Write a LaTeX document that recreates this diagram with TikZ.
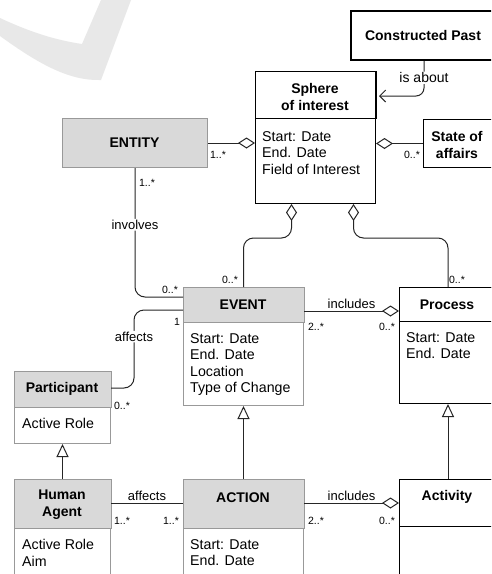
\documentclass[tikz,border=0pt]{standalone}
\usepackage{fontspec}
\setmainfont{Liberation Sans}
\usetikzlibrary{arrows.meta,positioning}

\tikzset{
  box/.style={draw=black, line width=1pt, fill=white, anchor=north west, inner sep=0pt},
  gbox/.style={box, draw=black!40},
  hdr/.style={draw=black!40, fill=black!15, line width=1pt},
  cname/.style={font=\bfseries\fontsize{14}{17}\selectfont, align=center, inner sep=0pt},
  attr/.style={font=\fontsize{14.2}{16.6}\selectfont, align=left, anchor=north west, inner sep=0pt},
  lbl/.style={font=\fontsize{13}{15}\selectfont, inner sep=1pt},
  mult/.style={font=\fontsize{10.5}{12}\selectfont, inner sep=0pt},
  link/.style={draw=black!85, line width=1pt},
  agg/.style={link, -{Diamond[open, length=17pt, width=11pt]}},
  gen/.style={link, -{Triangle[open, length=13pt, width=12pt]}},
}

\begin{document}
\begin{tikzpicture}[x=1pt, y=-1pt]
  \useasboundingbox (0,0) rectangle (491,574);
  \clip (0,0) rectangle (491,574);
  \fill[white] (0,0) rectangle (491,574);
  % faint mark in the corner
  \fill[black!9] (0,18) .. controls (30,32) and (55,40) .. (82,44) -- (101,0)
    -- (131,0) -- (101,80) .. controls (70,81) and (40,65) .. (0,36) -- cycle;

  % classes
  \node[box, line width=2pt, minimum width=146, minimum height=49] (past) at (350,10) {};
  \node[box, minimum width=120, minimum height=132] (sphere) at (255,71) {};
  \node[gbox, fill=black!15, minimum width=145, minimum height=49] (entity) at (62,118) {};
  \node[box, minimum width=70, minimum height=48] (affairs) at (423,119) {};
  \node[gbox, minimum width=120, minimum height=118] (event) at (183,287) {};
  \node[box, minimum width=97, minimum height=116] (process) at (399,287) {};
  \node[gbox, minimum width=96, minimum height=72] (participant) at (14,371) {};
  \node[gbox, minimum width=96, minimum height=120] (human) at (14,479) {};
  \node[gbox, minimum width=120, minimum height=120] (action) at (183,479) {};
  \node[box, minimum width=97, minimum height=120] (activity) at (399,479) {};

  % header compartments
  \draw[line width=1pt] (sphere.north west) rectangle ([yshift=-47pt]sphere.north east);
  \draw[line width=1pt] (process.north west) rectangle ([yshift=-34pt]process.north east);
  \draw[line width=1pt] (activity.north west) rectangle ([yshift=-47pt]activity.north east);
  \filldraw[hdr] (event.north west) rectangle ([yshift=-35pt]event.north east);
  \filldraw[hdr] (participant.north west) rectangle ([yshift=-36pt]participant.north east);
  \filldraw[hdr] (human.north west) rectangle ([yshift=-49pt]human.north east);
  \filldraw[hdr] (action.north west) rectangle ([yshift=-49pt]action.north east);

  % names
  \node[cname] (past-n) at (423,35) {Constructed Past};
  \node[cname] (sphere-n) at (315,96.5) {Sphere\\of interest};
  \node[cname] (entity-n) at (134.5,143) {ENTITY};
  \node[cname] (affairs-n) at (457,144.5) {State of\\affairs};
  \node[cname] (event-n) at (243,304.5) {EVENT};
  \node[cname] (process-n) at (447,304.5) {Process};
  \node[cname] (participant-n) at (62,389) {Participant};
  \node[cname] (human-n) at (62,505) {Human\\Agent};
  \node[cname] (action-n) at (243,497.5) {ACTION};
  \node[cname] (activity-n) at (447,496.5) {Activity};

  % attributes
  \node[attr] (sphere-a) at (262,131) {Start: Date\\End. Date\\Field of Interest};
  \node[attr] (event-a) at (190,333) {Start: Date\\End. Date\\Location\\Type of Change};
  \node[attr] (process-a) at (406,332) {Start: Date\\End. Date};
  \node[attr] (participant-a) at (22,418) {Active Role};
  \node[attr] (human-a) at (22,539) {Active Role\\Aim};
  \node[attr] (action-a) at (190,539) {Start: Date\\End. Date};

  % associations
  \coordinate (aboutend) at (379,96);
  \draw[link, -{Straight Barb[length=6pt, width=12pt]}, rounded corners=8pt]
    (past.south) |- node[lbl, pos=.24, fill=white, font=\fontsize{14}{16}\selectfont] {is about} (aboutend);
  \draw[agg] (entity.east) -- (entity.east -| sphere.west);
  \draw[agg] (affairs.west) -- (affairs.west -| sphere.east);
  \draw[agg, rounded corners=10pt] (event.north) -- (event.north |- 0,238)
    -| ([xshift=-24pt]sphere.south);
  \draw[agg, rounded corners=10pt] (process.north) -- (process.north |- 0,238)
    -| ([xshift=38pt]sphere.south);
  \draw[link, rounded corners=10pt] (entity.south)
    |- node[lbl, pos=.22, fill=white] {involves} ([yshift=-10pt]event.north west);
  \draw[link, rounded corners=10pt] ([yshift=-23pt]event.north west) -- ++(-49,0)
    |- node[lbl, pos=.17, fill=white] {affects} ([yshift=-17pt]participant.north east);
  \draw[agg] ([yshift=-24pt]event.north east)
    -- node[lbl, above=1pt] {includes} ([yshift=-24pt]process.north west);
  \draw[link] ([yshift=-24pt]human.north east)
    -- node[lbl, above=1pt] {affects} ([yshift=-24pt]action.north west);
  \draw[agg] ([yshift=-24pt]action.north east)
    -- node[lbl, above=1pt] {includes} ([yshift=-24pt]activity.north west);

  % generalisations
  \draw[gen] (human.north) -- (participant.south);
  \draw[gen] (action.north) -- (event.south);
  \draw[gen] (activity.north) -- (process.south);

  % multiplicities
  \node[mult] (m1) at (218,155) {1..*};
  \node[mult] (m2) at (412,155) {0..*};
  \node[mult] (m3) at (147,183) {1..*};
  \node[mult] (m4) at (170,290) {0..*};
  \node[mult] (m5) at (230,280) {0..*};
  \node[mult] (m6) at (457,280) {0..*};
  \node[mult] (m7) at (177,322) {1};
  \node[mult] (m8) at (316,327) {2..*};
  \node[mult] (m9) at (387,327) {0..*};
  \node[mult] (m10) at (122,406) {0..*};
  \node[mult] (m11) at (122,521) {1..*};
  \node[mult] (m12) at (171,521) {1..*};
  \node[mult] (m13) at (316,521) {2..*};
  \node[mult] (m14) at (387,521) {0..*};
\end{tikzpicture}
\end{document}
